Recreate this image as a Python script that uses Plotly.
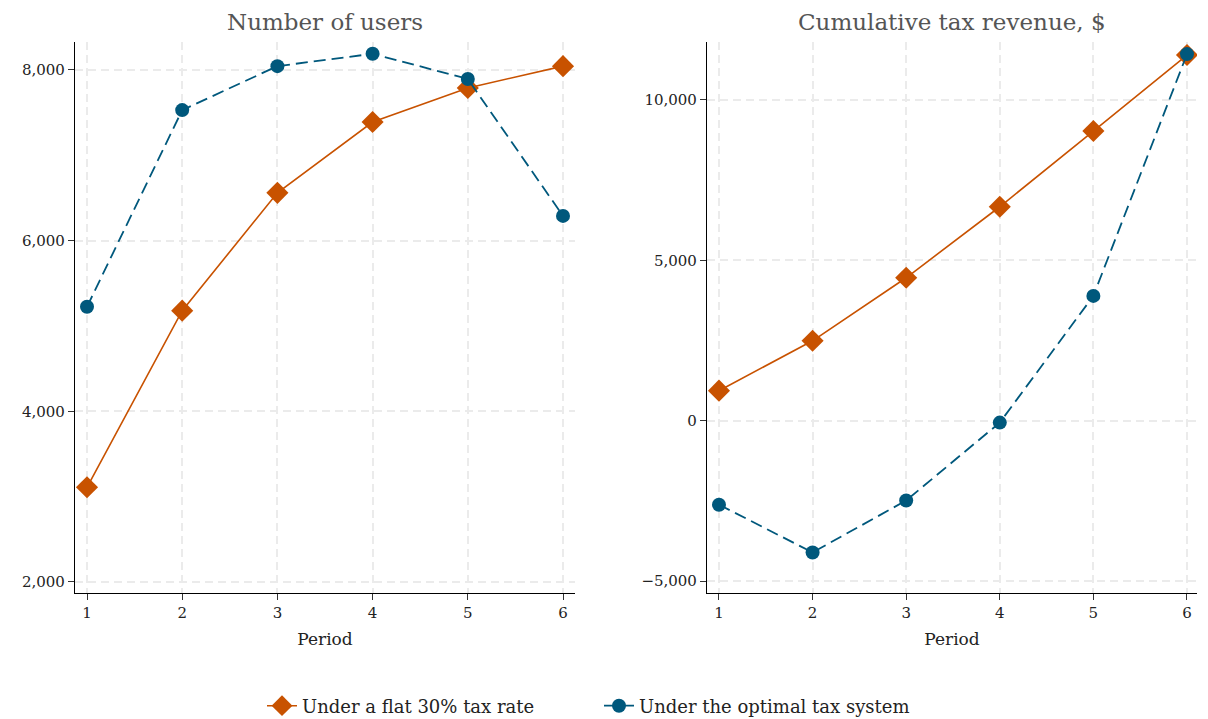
import plotly.graph_objects as go

periods = [1, 2, 3, 4, 5, 6]
users_flat = [3110, 5180, 6560, 7390, 7790, 8045]
users_optimal = [5225, 7530, 8045, 8190, 7895, 6290]
revenue_flat = [935, 2490, 4455, 6670, 9030, 11400]
revenue_optimal = [-2620, -4110, -2490, -60, 3890, 11430]

panel_titles = ["Number of users", "Cumulative tax revenue, $"]
series_names = ["Under a flat 30% tax rate", "Under the optimal tax system"]

ORANGE = "#c85200"
BLUE = "#00587c"
FONT = "Georgia, 'DejaVu Serif', serif"
OFF = 8  # page body margin
W, H = 1208 - OFF, 719 - OFF

def px(x):
    return (x - OFF) / W

def py(y):
    return 1 - (y - OFF) / H

fig = go.Figure()

def add_pair(xa, ya, flat, opt, show):
    fig.add_trace(go.Scatter(x=periods, y=flat, mode="lines+markers", name=series_names[0],
                             line=dict(color=ORANGE, width=1.6),
                             marker=dict(symbol="diamond", size=17, color=ORANGE),
                             xaxis=xa, yaxis=ya, showlegend=show, legendgroup="a"))
    fig.add_trace(go.Scatter(x=periods, y=opt, mode="lines+markers", name=series_names[1],
                             line=dict(color=BLUE, width=1.8, dash="12px,6px"),
                             marker=dict(symbol="circle", size=14, color=BLUE),
                             xaxis=xa, yaxis=ya, showlegend=show, legendgroup="b"))

add_pair("x", "y", users_flat, users_optimal, True)
add_pair("x2", "y2", revenue_flat, revenue_optimal, False)

ydom = [py(593), py(42)]
common_x = dict(tickvals=periods, showline=True, linecolor="black", linewidth=1.2,
                ticks="outside", ticklen=6, tickcolor="#333", showgrid=True,
                gridcolor="#ebebeb", griddash="8px,5px", gridwidth=1.5, zeroline=False,
                automargin=False,
                tickfont=dict(family=FONT, size=15, color="#222"),
                title=dict(text="Period", font=dict(family=FONT, size=17, color="#222"), standoff=12))
common_y = dict(showline=True, linecolor="black", linewidth=1.2, ticks="outside", ticklen=6,
                tickcolor="#333", showgrid=True, gridcolor="#ebebeb", griddash="8px,5px",
                gridwidth=1.5, zeroline=False, tickformat=",", automargin=False,
                tickfont=dict(family=FONT, size=15, color="#222"))

fig.update_layout(
    width=W, height=H,
    margin=dict(l=0, r=0, t=0, b=0, autoexpand=False),
    paper_bgcolor="white", plot_bgcolor="white",
    font=dict(family=FONT),
    xaxis=dict(domain=[px(75), px(575)], range=[0.874, 6.126], anchor="y", **common_x),
    yaxis=dict(domain=ydom, range=[1871, 8328], anchor="x",
               tickvals=[2000, 4000, 6000, 8000], **common_y),
    xaxis2=dict(domain=[px(707), px(1197)], range=[0.872, 6.107], anchor="y2", **common_x),
    yaxis2=dict(domain=ydom, range=[-5374, 11807], anchor="x2",
                tickvals=[-5000, 0, 5000, 10000], **common_y),
    legend=dict(orientation="h", x=px(262), xanchor="left", y=py(706), yanchor="middle",
                font=dict(family=FONT, size=18, color="#222"), entrywidth=292,
                traceorder="normal", bgcolor="rgba(0,0,0,0)"),
)

for txt, cx in zip(panel_titles, [325, 952]):
    fig.add_annotation(text=txt, x=px(cx), y=py(22), xref="paper", yref="paper",
                       showarrow=False, xanchor="center", yanchor="middle",
                       font=dict(family=FONT, size=23, color="#555"))

fig.write_html("out.html")
